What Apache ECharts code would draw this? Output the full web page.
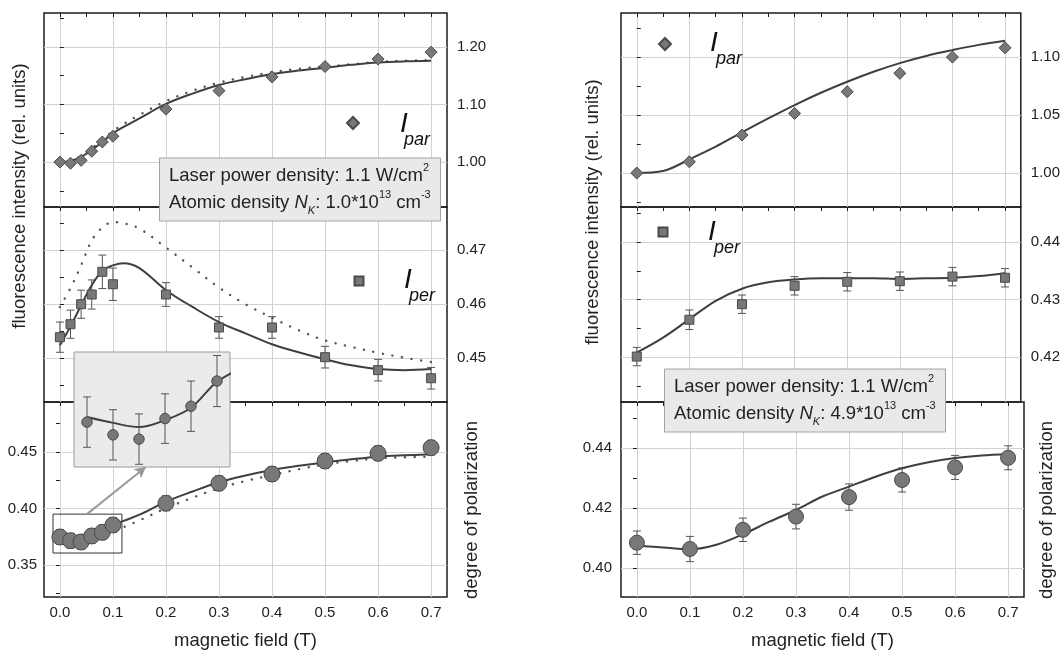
<!DOCTYPE html>
<html>
<head>
<meta charset="utf-8">
<script src="https://cdn.jsdelivr.net/npm/echarts@6/dist/echarts.min.js"></script>
<style>
  html, body { margin: 0; padding: 0; background: #fff; }
  #chart { width: 1063px; height: 651px; }
</style>
</head>
<body>
<div id="chart"></div>
<script>
// ---- measured data: left panel (N_K = 1.0e13 cm^-3) ----
const FIELD_L = [0, 0.02, 0.04, 0.06, 0.08, 0.1, 0.2, 0.3, 0.4, 0.5, 0.6, 0.7];
const IPAR_L = [1.000, 0.998, 1.003, 1.019, 1.035, 1.045, 1.092, 1.124, 1.148, 1.166, 1.179, 1.191];
const IPER_L = [0.4539, 0.4563, 0.4600, 0.4618, 0.4660, 0.4637, 0.4618, 0.4557, 0.4557, 0.4502, 0.4478, 0.4463];
const IPER_L_ERR = [0.0028, 0.0026, 0.0026, 0.0027, 0.0031, 0.0030, 0.0022, 0.0020, 0.0020, 0.0020, 0.0020, 0.0020];
const POL_L = [0.3748, 0.3715, 0.3704, 0.3757, 0.3789, 0.3854, 0.4046, 0.4223, 0.4305, 0.4420, 0.4488, 0.4538];
const POL_L_ERR = [0.0065, 0.0065, 0.0065, 0.0064, 0.0065, 0.0066, 0.0065, 0.0065, 0.0065, 0.0065, 0.0065, 0.0065];

// ---- model curves: left panel ----
const CURVE_X_L = [0, 0.02, 0.04, 0.06, 0.08, 0.1, 0.12, 0.15, 0.2, 0.25, 0.3, 0.35, 0.4, 0.45, 0.5, 0.55, 0.6, 0.65, 0.7];
const IPAR_L_FIT = [1.000, 1.002, 1.009, 1.021, 1.035, 1.050, 1.061, 1.076, 1.101, 1.119, 1.134, 1.144, 1.153, 1.159, 1.164, 1.169, 1.173, 1.175, 1.176];
const IPAR_L_ALT = [1.000, 1.003, 1.011, 1.024, 1.039, 1.054, 1.066, 1.082, 1.106, 1.124, 1.138, 1.148, 1.156, 1.162, 1.166, 1.170, 1.174, 1.176, 1.177];
const IPER_L_FIT = [0.4524, 0.4559, 0.4598, 0.4635, 0.4662, 0.4672, 0.4676, 0.4667, 0.4626, 0.4595, 0.4567, 0.4546, 0.4526, 0.4511, 0.4498, 0.4487, 0.4480, 0.4478, 0.4480];
const IPER_L_ALT = [0.4595, 0.4630, 0.4672, 0.4718, 0.4742, 0.4752, 0.4750, 0.4740, 0.4705, 0.4668, 0.4631, 0.4600, 0.4575, 0.4552, 0.4533, 0.4521, 0.4510, 0.4501, 0.4493];
const POL_L_FIT = [0.3761, 0.3746, 0.3735, 0.3753, 0.3785, 0.3852, 0.3890, 0.3945, 0.4060, 0.4150, 0.4232, 0.4292, 0.4341, 0.4378, 0.4408, 0.4435, 0.4458, 0.4470, 0.4479];
const POL_L_ALT = [0.3755, 0.3730, 0.3715, 0.3722, 0.3752, 0.3800, 0.3835, 0.3895, 0.4002, 0.4095, 0.4179, 0.4243, 0.4296, 0.4347, 0.4391, 0.4420, 0.4444, 0.4453, 0.4458];

// ---- measured data: right panel (N_K = 4.9e13 cm^-3) ----
const FIELD_R = [0, 0.1, 0.2, 0.3, 0.4, 0.5, 0.6, 0.7];
const IPAR_R = [1.000, 1.0097, 1.0328, 1.0514, 1.0701, 1.086, 1.100, 1.108];
const IPER_R = [0.4201, 0.4265, 0.4292, 0.4324, 0.4331, 0.4332, 0.4340, 0.4338];
const IPER_R_ERR = [0.0016, 0.0017, 0.0016, 0.0016, 0.0016, 0.0016, 0.0016, 0.0016];
const POL_R = [0.4084, 0.4063, 0.4127, 0.4171, 0.4236, 0.4293, 0.4335, 0.4367];
const POL_R_ERR = [0.0039, 0.0042, 0.0039, 0.0041, 0.0044, 0.0040, 0.0040, 0.0040];

// ---- model curves: right panel ----
const CURVE_X_R = [0, 0.05, 0.1, 0.15, 0.2, 0.25, 0.3, 0.35, 0.4, 0.45, 0.5, 0.55, 0.6, 0.65, 0.7];
const IPAR_R_FIT = [1.000, 1.0017, 1.0118, 1.0227, 1.0351, 1.0471, 1.0586, 1.0692, 1.0787, 1.0873, 1.0948, 1.1010, 1.1060, 1.1105, 1.1140];
const IPER_R_FIT = [0.4208, 0.4234, 0.4266, 0.4298, 0.4319, 0.4330, 0.4335, 0.4337, 0.4337, 0.4337, 0.4336, 0.4337, 0.4338, 0.4341, 0.4346];
const POL_R_FIT = [0.4074, 0.4068, 0.4062, 0.4077, 0.4112, 0.4154, 0.4193, 0.4238, 0.4271, 0.4304, 0.4332, 0.4352, 0.4366, 0.4375, 0.4380];

// ---- axes: ranges and tick values ----
const X_RANGE = [-0.03, 0.73];
const X_TICKS = [0, 0.1, 0.2, 0.3, 0.4, 0.5, 0.6, 0.7];
const X_MINOR = [0, 0.05, 0.1, 0.15, 0.2, 0.25, 0.3, 0.35, 0.4, 0.45, 0.5, 0.55, 0.6, 0.65, 0.7];
const Y_RANGE_IPAR_L = [0.922, 1.259];
const Y_TICKS_IPAR_L = [1.00, 1.10, 1.20];
const Y_RANGE_IPER_L = [0.4419, 0.4780];
const Y_TICKS_IPER_L = [0.45, 0.46, 0.47];
const Y_RANGE_POL_L = [0.3217, 0.4942];
const Y_TICKS_POL_L = [0.35, 0.40, 0.45];
const Y_RANGE_IPAR_R = [0.9707, 1.138];
const Y_TICKS_IPAR_R = [1.00, 1.05, 1.10];
const Y_RANGE_IPER_R = [0.4122, 0.4461];
const Y_TICKS_IPER_R = [0.42, 0.43, 0.44];
const Y_RANGE_POL_R = [0.3903, 0.4553];
const Y_TICKS_POL_R = [0.40, 0.42, 0.44];

// magnified window on the low-field polarization points
const ZOOM_X = [-0.013, 0.117];
const ZOOM_Y = [0.3606, 0.395];
const ZOOM_VIEW_X = [-0.01, 0.11];
const ZOOM_VIEW_Y = [0.3632, 0.3929];
const ZOOM_ARROW = [[0.051, 0.395], [0.162, 0.4367]];

// ---- texts ----
const X_NAME = 'magnetic field (T)';
const Y_NAME_INT = 'fluorescence intensity (rel. units)';
const Y_NAME_POL = 'degree of polarization';
const INFO_L = ['1.1', '1.0'];
const INFO_R = ['1.1', '4.9'];

// ---- styles ----
const FONT = '"Liberation Sans", Arial, Helvetica, sans-serif';
const INK = '#222';
const FRAME = '#1c1c1c';
const GRIDLINE = '#d2d2d2';
const CURVE = '#3f3f3f';
const MARK_FILL = '#787878';
const MARK_EDGE = '#4a4a4a';
const BAR = '#555';

const pairs = (xs, ys) => xs.map((x, i) => [x, ys[i]]);
const bars = (xs, ys, es) => xs.map((x, i) => [x, ys[i] - es[i], ys[i] + es[i]]);

// labelled values plus the half steps between them, limited to the axis range
function withHalves(ticks, range) {
  const step = ticks[1] - ticks[0];
  const out = [];
  for (let v = ticks[0] - 2 * step; v <= ticks[ticks.length - 1] + 2 * step + 1e-9; v += step / 2) {
    const r = Math.round(v * 1e6) / 1e6;
    if (r > range[0] && r < range[1]) out.push(r);
  }
  return out;
}

// layout of the six sub-plots (labels of the polarization plots sit on the left)
const PANELS = [
  { left: 44,  top: 13,  height: 194, yr: Y_RANGE_IPAR_L, yt: Y_TICKS_IPAR_L, bottom: false, side: 'right', gap: 10 },
  { left: 44,  top: 207, height: 195, yr: Y_RANGE_IPER_L, yt: Y_TICKS_IPER_L, bottom: false, side: 'right', gap: 10 },
  { left: 44,  top: 402, height: 195, yr: Y_RANGE_POL_L,  yt: Y_TICKS_POL_L,  bottom: true,  side: 'left',  gap: 7 },
  { left: 621, top: 13,  height: 194, yr: Y_RANGE_IPAR_R, yt: Y_TICKS_IPAR_R, bottom: false, side: 'right', gap: 10 },
  { left: 621, top: 207, height: 195, yr: Y_RANGE_IPER_R, yt: Y_TICKS_IPER_R, bottom: false, side: 'right', gap: 10 },
  { left: 621, top: 402, height: 195, yr: Y_RANGE_POL_R,  yt: Y_TICKS_POL_R,  bottom: true,  side: 'left',  gap: 9 }
];
const PANEL_WIDTH = 403;

const grid = [], xAxis = [], yAxis = [];
PANELS.forEach((p, i) => {
  grid.push({
    left: p.left, top: p.top, width: PANEL_WIDTH, height: p.height,
    show: true, borderColor: FRAME, borderWidth: 1.5, backgroundColor: 'transparent', z: 0
  });
  // labelled x axis with grid lines
  xAxis.push({
    type: 'value', gridIndex: i, position: 'bottom', min: X_RANGE[0], max: X_RANGE[1],
    axisLine: { show: false },
    axisTick: { show: false, customValues: X_TICKS },
    axisLabel: {
      show: p.bottom, customValues: X_TICKS, margin: 8,
      fontFamily: FONT, fontSize: 15, color: INK,
      formatter: v => v.toFixed(1)
    },
    splitLine: { show: true, lineStyle: { color: GRIDLINE, width: 1 } },
    name: p.bottom ? X_NAME : '', nameLocation: 'middle', nameGap: 34,
    nameTextStyle: { fontFamily: FONT, fontSize: 18.5, color: INK }
  });
  // small inner ticks on the frame
  xAxis.push({
    type: 'value', gridIndex: i, position: 'top', min: X_RANGE[0], max: X_RANGE[1],
    axisLine: { show: false },
    axisTick: { show: true, inside: true, length: 4, customValues: X_MINOR, lineStyle: { color: FRAME } },
    axisLabel: { show: false },
    splitLine: { show: false }
  });
  yAxis.push({
    type: 'value', gridIndex: i, position: p.side, min: p.yr[0], max: p.yr[1],
    axisLine: { show: false },
    axisTick: { show: false, customValues: p.yt },
    axisLabel: {
      show: true, customValues: p.yt, margin: p.gap,
      fontFamily: FONT, fontSize: 15, color: INK,
      formatter: v => v.toFixed(2)
    },
    splitLine: { show: true, lineStyle: { color: GRIDLINE, width: 1 } }
  });
  yAxis.push({
    type: 'value', gridIndex: i, position: p.side === 'right' ? 'left' : 'right', min: p.yr[0], max: p.yr[1],
    axisLine: { show: false },
    axisTick: { show: true, inside: true, length: 4, customValues: withHalves(p.yt, p.yr), lineStyle: { color: FRAME } },
    axisLabel: { show: false },
    splitLine: { show: false }
  });
});
// magnifier window (grid index 6)
grid.push({
  left: 74, top: 352, width: 156, height: 115,
  show: true, backgroundColor: '#ebebeb', borderColor: '#9a9a9a', borderWidth: 1, z: 10
});
xAxis.push({ type: 'value', gridIndex: 6, min: ZOOM_VIEW_X[0], max: ZOOM_VIEW_X[1], show: false });
yAxis.push({ type: 'value', gridIndex: 6, min: ZOOM_VIEW_Y[0], max: ZOOM_VIEW_Y[1], show: false });

// axis index helpers: each panel owns two x and two y axes
const AX = i => ({ xAxisIndex: 2 * i, yAxisIndex: 2 * i });
const ZOOM_AX = { xAxisIndex: 12, yAxisIndex: 12 };

function errorBars(data, axes, cap, z) {
  return Object.assign({
    type: 'custom', data: data, z: z || 3, silent: true, clip: true,
    encode: { x: 0, y: [1, 2] },
    renderItem: function (params, api) {
      const x = api.value(0);
      const lo = api.coord([x, api.value(1)]);
      const hi = api.coord([x, api.value(2)]);
      const st = { stroke: BAR, lineWidth: 1 };
      return {
        type: 'group',
        children: [
          { type: 'line', shape: { x1: lo[0], y1: lo[1], x2: hi[0], y2: hi[1] }, style: st },
          { type: 'line', shape: { x1: lo[0] - cap, y1: lo[1], x2: lo[0] + cap, y2: lo[1] }, style: st },
          { type: 'line', shape: { x1: hi[0] - cap, y1: hi[1], x2: hi[0] + cap, y2: hi[1] }, style: st }
        ]
      };
    }
  }, axes);
}
function fitLine(xs, ys, axes, z) {
  return Object.assign({
    type: 'line', data: pairs(xs, ys), smooth: 0.35, showSymbol: false, silent: true, clip: true,
    z: z || 3, lineStyle: { color: CURVE, width: 2 }
  }, axes);
}
function altLine(xs, ys, axes) {
  return Object.assign({
    type: 'line', data: pairs(xs, ys), smooth: 0.35, showSymbol: false, silent: true, clip: true,
    z: 3, lineStyle: { color: '#555', width: 2.4, type: [0.1, 9.6], cap: 'round' }
  }, axes);
}
function points(name, xs, ys, symbol, size, axes, z) {
  return Object.assign({
    name: name, type: 'scatter', data: pairs(xs, ys), symbol: symbol, symbolSize: size,
    z: z || 4, silent: true,
    itemStyle: { color: MARK_FILL, borderColor: MARK_EDGE, borderWidth: 1, opacity: 1 }
  }, axes);
}

const series = [
  // left: parallel component
  altLine(CURVE_X_L, IPAR_L_ALT, AX(0)),
  fitLine(CURVE_X_L, IPAR_L_FIT, AX(0)),
  points('Ipar-1.0', FIELD_L, IPAR_L, 'diamond', 12, AX(0)),
  // left: perpendicular component
  altLine(CURVE_X_L, IPER_L_ALT, AX(1)),
  fitLine(CURVE_X_L, IPER_L_FIT, AX(1)),
  errorBars(bars(FIELD_L, IPER_L, IPER_L_ERR), AX(1), 4),
  points('Iper-1.0', FIELD_L, IPER_L, 'rect', 9, AX(1)),
  // left: polarization
  altLine(CURVE_X_L, POL_L_ALT, AX(2)),
  fitLine(CURVE_X_L, POL_L_FIT, AX(2)),
  errorBars(bars(FIELD_L, POL_L, POL_L_ERR), AX(2), 4),
  Object.assign(points('Pol-1.0', FIELD_L, POL_L, 'circle', 16, AX(2)), {
    markArea: {
      silent: true, z: 2,
      itemStyle: { color: 'rgba(0,0,0,0)', borderColor: '#333', borderWidth: 1 },
      data: [[{ coord: [ZOOM_X[0], ZOOM_Y[0]] }, { coord: [ZOOM_X[1], ZOOM_Y[1]] }]]
    },
    markLine: {
      silent: true, symbol: ['none', 'arrow'], symbolSize: [9, 11], z: 2,
      label: { show: false },
      lineStyle: { color: '#9a9a9a', width: 2, type: 'solid' },
      data: [[{ coord: ZOOM_ARROW[0] }, { coord: ZOOM_ARROW[1] }]]
    }
  }),
  // magnifier
  fitLine(CURVE_X_L, POL_L_FIT, ZOOM_AX, 11),
  errorBars(bars(FIELD_L, POL_L, POL_L_ERR), ZOOM_AX, 4, 12),
  points('Pol-zoom', FIELD_L, POL_L, 'circle', 10.5, ZOOM_AX, 13),
  // right: parallel component
  fitLine(CURVE_X_R, IPAR_R_FIT, AX(3)),
  points('Ipar-4.9', FIELD_R, IPAR_R, 'diamond', 12, AX(3)),
  // right: perpendicular component
  fitLine(CURVE_X_R, IPER_R_FIT, AX(4)),
  errorBars(bars(FIELD_R, IPER_R, IPER_R_ERR), AX(4), 4),
  points('Iper-4.9', FIELD_R, IPER_R, 'rect', 9, AX(4)),
  // right: polarization
  fitLine(CURVE_X_R, POL_R_FIT, AX(5)),
  errorBars(bars(FIELD_R, POL_R, POL_R_ERR), AX(5), 4),
  points('Pol-4.9', FIELD_R, POL_R, 'circle', 15, AX(5))
];

// legend keys (symbol only) next to the I_par / I_per labels
function key(name, icon, size, left, top) {
  return {
    data: [name], icon: icon, left: left, top: top, padding: 0,
    itemWidth: size, itemHeight: size, selectedMode: false,
    formatter: () => '', textStyle: { fontSize: 1 }
  };
}
const legend = [
  key('Ipar-1.0', 'diamond', 12, 346, 116),
  key('Iper-1.0', 'rect', 9, 353.5, 275.5),
  key('Ipar-4.9', 'diamond', 12, 658, 37),
  key('Iper-4.9', 'rect', 9, 657.5, 226.5)
];

// I_par / I_per symbols and the experimental-condition boxes
function symbolLabel(sub, left, top, shift) {
  return {
    left: left, top: top, padding: 0, z: 7,
    text: '{i|I}\n{s|' + sub + '}',
    textStyle: {
      fontWeight: 'normal',
      rich: {
        i: { fontFamily: FONT, fontSize: 28, fontStyle: 'italic', fontWeight: 'normal', color: '#111', lineHeight: 20 },
        s: { fontFamily: FONT, fontSize: 18, fontStyle: 'italic', fontWeight: 'normal', color: '#111', lineHeight: 10, padding: [0, 0, 0, shift] }
      }
    }
  };
}
function infoBox(power, density, left, top) {
  const base = { fontFamily: FONT, fontSize: 18.5, fontWeight: 'normal', color: INK, lineHeight: 27 };
  return {
    left: left, top: top, z: 6,
    padding: [4.5, 10, 4.5, 10],
    backgroundColor: '#e9e9e9', borderColor: '#a3a3a3', borderWidth: 1,
    text: '{t|Laser power density: ' + power + ' W/cm}{sup|2}\n' +
          '{t|Atomic density }{it|N}{sub|K}{t|: ' + density + '*10}{sup|13}{t| cm}{sup|-3}',
    textStyle: {
      width: 260, fontWeight: 'normal',
      rich: {
        t: base,
        it: Object.assign({}, base, { fontStyle: 'italic' }),
        sup: { fontFamily: FONT, fontSize: 11, fontWeight: 'normal', color: INK, lineHeight: 15, verticalAlign: 'top' },
        sub: { fontFamily: FONT, fontSize: 11, fontWeight: 'normal', color: INK, fontStyle: 'italic', lineHeight: 6, verticalAlign: 'bottom' }
      }
    }
  };
}
const title = [
  symbolLabel('par', 400, 114.6, 4),
  symbolLabel('per', 404, 270.6, 5),
  symbolLabel('par', 710, 33.6, 6),
  symbolLabel('per', 708, 222.6, 6),
  infoBox(INFO_L[0], INFO_L[1], 159, 158),
  infoBox(INFO_R[0], INFO_R[1], 664, 369)
];

// rotated axis titles
function vText(text, x, y) {
  return {
    type: 'text', x: x, y: y, rotation: Math.PI / 2, silent: true, z: 5,
    style: {
      text: text, fill: INK, font: '18.5px ' + FONT,
      align: 'center', verticalAlign: 'middle', textAlign: 'center', textVerticalAlign: 'middle'
    }
  };
}
const graphic = [
  vText(Y_NAME_INT, 20, 196),
  vText(Y_NAME_INT, 593, 212),
  vText(Y_NAME_POL, 472, 510),
  vText(Y_NAME_POL, 1047, 510)
];

const chart = echarts.init(document.getElementById('chart'), null, { renderer: 'canvas' });
chart.setOption({
  animation: false,
  backgroundColor: '#ffffff',
  textStyle: { fontFamily: FONT },
  grid: grid, xAxis: xAxis, yAxis: yAxis,
  series: series, legend: legend, title: title, graphic: graphic
});
</script>
</body>
</html>
